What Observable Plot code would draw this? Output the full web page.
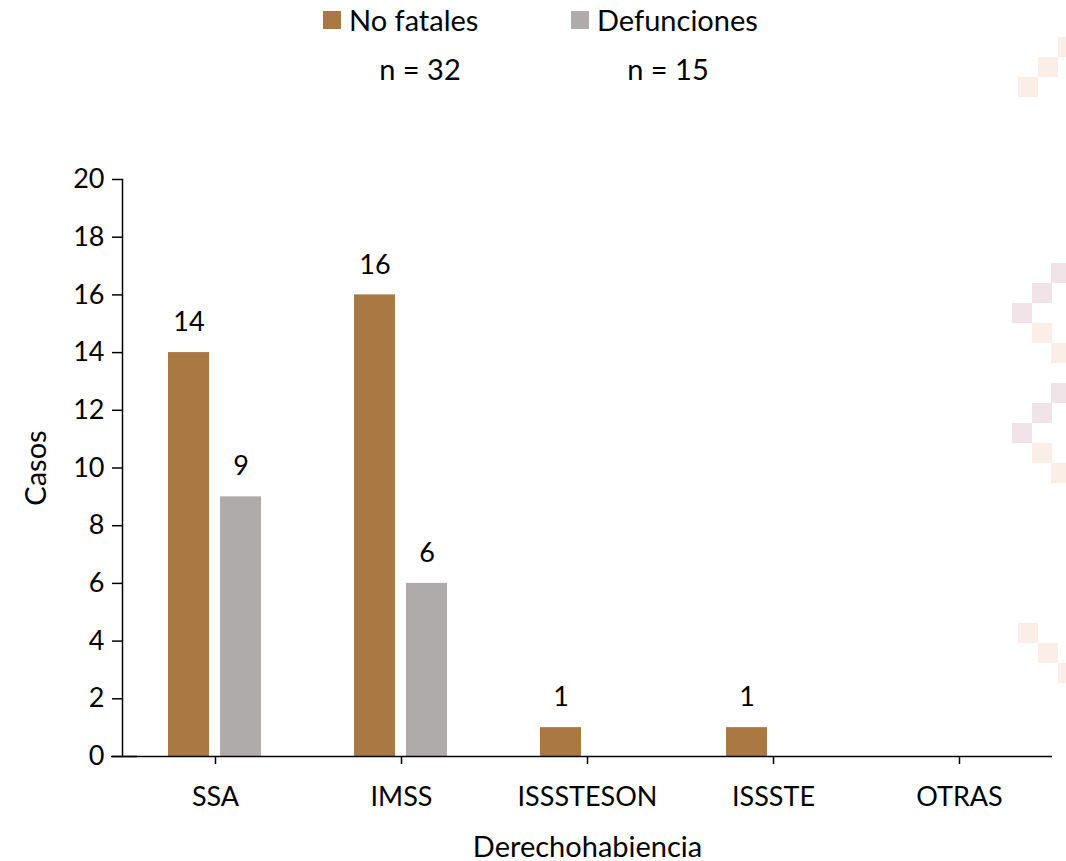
<!DOCTYPE html>
<html>
<head>
<meta charset="utf-8">
<script src="https://cdn.jsdelivr.net/npm/d3@7"></script>
<script src="https://cdn.jsdelivr.net/npm/@observablehq/plot@0.6"></script>
<style>
  html, body { margin: 0; padding: 0; background: #fff; }
  body { width: 1066px; height: 861px; position: relative; overflow: hidden; font-family: Lato, "Open Sans", sans-serif; }
  #legend { position: absolute; left: 0; top: 0; width: 1066px; height: 100px; font-size: 29px; color: #000; }
  .item { position: absolute; top: 2px; display: flex; align-items: center; }
  .sw { width: 18px; height: 18px; margin-right: 8px; }
  .n { position: absolute; top: 51px; transform: translateX(-50%); }
  #chart { position: absolute; left: 0; top: 100px; }
  .deco { position: absolute; width: 20px; height: 20px; }
  #chart svg g[aria-label="fx-axis label"] text, #chart svg g[aria-label="y-axis label"] text { font-size: 29px; }
</style>
</head>
<body>
<div id="deco"></div>
<div id="legend"></div>
<div id="chart"></div>
<script>
const categories = ["SSA", "IMSS", "ISSSTESON", "ISSSTE", "OTRAS"];
const series = ["No fatales", "Defunciones"];
const noFatales = [14, 16, 1, 1, 0];
const defunciones = [9, 6, 0, 0, 0];
const seriesTotals = ["n = 32", "n = 15"];
const colors = ["#A97843", "#AFABAB"];
const yTicks = [0, 2, 4, 6, 8, 10, 12, 14, 16, 18, 20];

const data = [];
categories.forEach((c, i) => {
  data.push({cat: c, serie: series[0], value: noFatales[i]});
  data.push({cat: c, serie: series[1], value: defunciones[i]});
});

// decorative background squares
const decoSquares = [
  [1058,37,"#FBEEE6"],[1038,57,"#FBEEE6"],[1018,77,"#FBEEE6"],
  [1051,263,"#F0E4E8"],[1032,283,"#F0E4E8"],[1012,303,"#F0E4E8"],[1032,323,"#FBEEE6"],[1051,343,"#FBEEE6"],
  [1051,383,"#F0E4E8"],[1032,403,"#F0E4E8"],[1012,423,"#F0E4E8"],[1032,443,"#FBEEE6"],[1051,463,"#FBEEE6"],
  [1018,623,"#FBEEE6"],[1038,643,"#FBEEE6"],[1058,663,"#FBEEE6"]
];
const deco = document.getElementById("deco");
decoSquares.forEach(([x, y, c]) => {
  const d = document.createElement("div");
  d.className = "deco";
  d.style.left = x + "px"; d.style.top = y + "px"; d.style.background = c;
  deco.appendChild(d);
});

// legend
const legend = document.getElementById("legend");
const legendX = [323, 571];
const nX = [420, 668];
series.forEach((s, i) => {
  const it = document.createElement("div");
  it.className = "item";
  it.style.left = legendX[i] + "px";
  it.innerHTML = `<div class="sw" style="background:${colors[i]}"></div><span>${s}</span>`;
  legend.appendChild(it);
  const n = document.createElement("div");
  n.className = "n";
  n.style.left = nX[i] + "px";
  n.textContent = seriesTotals[i];
  legend.appendChild(n);
});

const chart = Plot.plot({
  width: 1066,
  height: 761,
  marginLeft: 121,
  marginRight: 13,
  marginTop: 79,
  marginBottom: 105,
  style: {fontFamily: "Lato, 'Open Sans', sans-serif", fontSize: "27px", color: "#000", background: "transparent", overflow: "visible"},
  fx: {domain: categories, padding: 0, label: null},
  x: {domain: series, paddingInner: 0.2075, paddingOuter: 0.863, axis: null},
  y: {domain: [0, 20], ticks: yTicks, label: null},
  color: {domain: series, range: colors},
  marks: [
    Plot.frame({anchor: "left", facetAnchor: "left", stroke: "#000", strokeWidth: 1.5}),
    Plot.axisY({ticks: yTicks, tickSize: 10, tickPadding: 8, tickFormat: d => d, label: "Casos", labelAnchor: "center", labelArrow: "none", labelOffset: 97, stroke: "#000", strokeWidth: 1.5}),
    Plot.axisFx({anchor: "bottom", tickSize: 8, tickPadding: 22, label: "Derechohabiencia", labelAnchor: "center", labelArrow: "none", labelOffset: 100, stroke: "#000", strokeWidth: 1.5}),
    Plot.barY(data, {fx: "cat", x: "serie", y: "value", fill: "serie"}),
    Plot.ruleY([0], {stroke: "#000", strokeWidth: 1.5}),
    Plot.ruleY([0], {stroke: "#000", strokeWidth: 1.5, facetAnchor: "left", dx: -11, clip: false, insetRight: 160}),
    Plot.text(data.filter(d => d.value > 0), {fx: "cat", x: "serie", y: "value", text: d => String(d.value), dy: -30, fill: "#000", fontSize: 27})
  ]
});
document.getElementById("chart").appendChild(chart);
</script>
</body>
</html>
